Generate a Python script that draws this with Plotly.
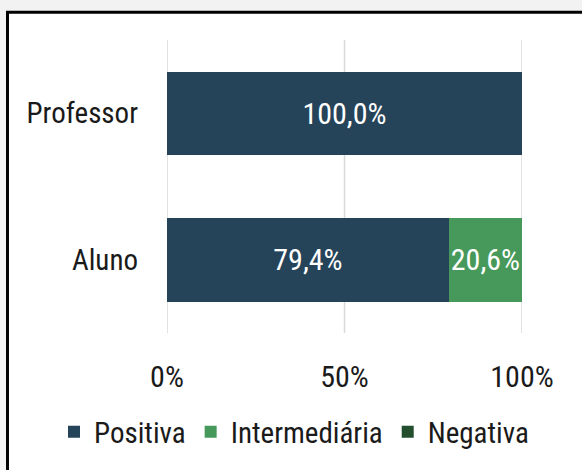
import plotly.graph_objects as go

# Survey results by respondent group (percent)
categories = ["Aluno", "Professor"]
positiva = [79.4, 100.0]
intermediaria = [20.6, 0.0]
negativa = [0.0, 0.0]

series_names = ["Positiva", "Intermediária", "Negativa"]
series_colors = ["#264459", "#46995a", "#234f2f"]
tick_vals = [0, 50, 100]
tick_text = ["0%", "50%", "100%"]

FONT = "Roboto Condensed, Liberation Sans Narrow, Arial Narrow, sans-serif"
TEXT_COLOR = "#1a1a1a"
W, H = 582, 470
L, R, T, B = 167, 60, 40, 134
PW, PH = W - L - R, H - T - B


def px_x(px):
    return (px - L) / PW


def px_y(py):
    return (H - B - py) / PH


def fmt(v):
    return "" if v == 0 else f"{v:.1f}".replace(".", ",") + "%"


fig = go.Figure()
for name, vals, color in zip(series_names, [positiva, intermediaria, negativa], series_colors):
    fig.add_trace(go.Bar(
        y=categories, x=vals, name=name, orientation="h",
        marker=dict(color=color, line=dict(width=0)),
        text=[fmt(v) for v in vals], textposition="inside",
        insidetextanchor="middle", textangle=0, constraintext="none",
        textfont=dict(family=FONT, size=30, color="white"),
        hoverinfo="skip",
    ))

# White framed panel on a light grey page
fig.add_shape(type="rect", xref="paper", yref="paper",
              x0=px_x(7.5), x1=px_x(600), y0=px_y(12), y1=px_y(490),
              line=dict(color="black", width=3), fillcolor="white", layer="below")

# Vertical gridlines at each tick, including both ends of the axis
for v in tick_vals:
    fig.add_shape(type="line", xref="x", yref="paper", x0=v, x1=v, y0=0, y1=1,
                  line=dict(color="#d9d9d9", width=1.5), layer="below")

fig.update_layout(
    width=W, height=H,
    margin=dict(l=L, r=R, t=T, b=B),
    paper_bgcolor="#f2f2f2", plot_bgcolor="rgba(0,0,0,0)",
    barmode="stack", bargap=0.43,
    font=dict(family=FONT, size=29, color=TEXT_COLOR),
    showlegend=True,
    legend=dict(orientation="h", x=px_x(54), xanchor="left",
                y=px_y(436), yanchor="middle",
                font=dict(family=FONT, size=29, color=TEXT_COLOR),
                bgcolor="rgba(0,0,0,0)", traceorder="normal"),
    xaxis=dict(range=[0, 100], tickmode="array", tickvals=tick_vals, ticktext=tick_text,
               tickfont=dict(family=FONT, size=30, color=TEXT_COLOR),
               showgrid=False, zeroline=False, showline=False, ticks="",
               ticklabelstandoff=23, fixedrange=True),
    yaxis=dict(showgrid=False, zeroline=False, showline=False, ticks="",
               ticklabelstandoff=28, fixedrange=True),
)

fig.write_html("out.html")
